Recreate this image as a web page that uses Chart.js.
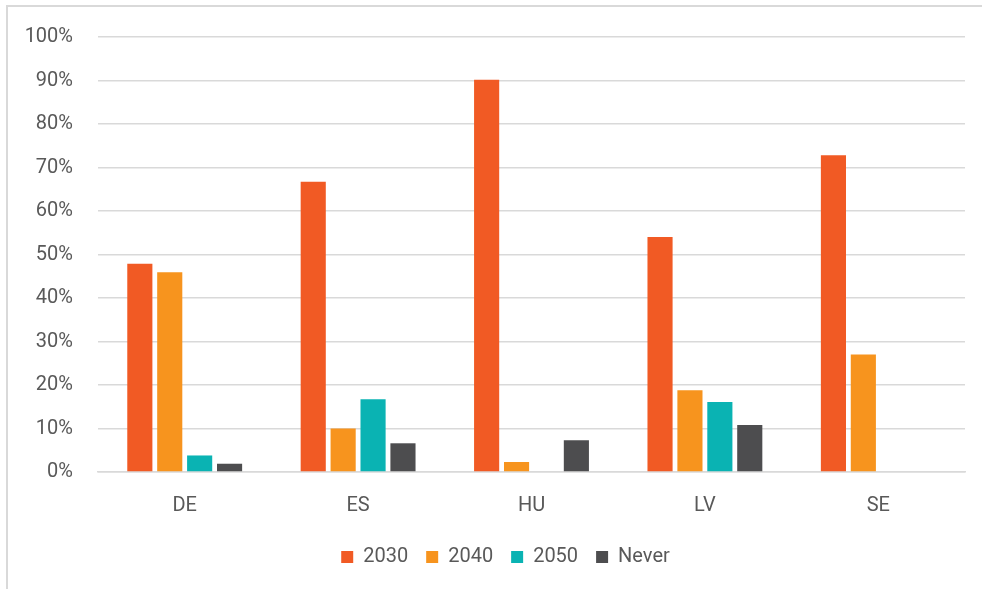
<!DOCTYPE html>
<html>
<head>
<meta charset="utf-8">
<script src="https://cdn.jsdelivr.net/npm/chart.js@4/dist/chart.umd.min.js"></script>
<style>
  html, body { margin: 0; padding: 0; background: #ffffff; }
  #wrap { position: relative; width: 982px; height: 589px; }
  #frame { position: absolute; left: 6px; top: 5px; width: 990px; height: 600px;
           border-left: 2px solid #d9d9d9; border-top: 2px solid #d9d9d9; box-sizing: border-box; }
  canvas { position: absolute; left: 0; top: 0; }
</style>
</head>
<body>
<div id="wrap">
  <div id="frame"></div>
  <canvas id="chart" width="982" height="589"></canvas>
</div>
<script>
const categories = ['DE', 'ES', 'HU', 'LV', 'SE'];
const seriesNames = ['2030', '2040', '2050', 'Never'];
const values2030 = [47.9, 66.7, 90.2, 54.0, 72.8];
const values2040 = [45.9, 10.0, 2.3, 18.8, 27.0];
const values2050 = [3.8, 16.7, 0, 16.1, 0];
const valuesNever = [1.9, 6.6, 7.3, 10.8, 0];
const colors = ['#F15A24', '#F7941E', '#0AB3B3', '#4D4D4F'];
const yTicks = [0, 10, 20, 30, 40, 50, 60, 70, 80, 90, 100];

const seriesValues = [values2030, values2040, values2050, valuesNever];
const fontFamily = "Roboto, 'Noto Sans', sans-serif";
const textColor = '#595959';

// Nudge the legend row a little to the right of the canvas centre
const legendShift = {
  id: 'legendShift',
  afterLayout(chart) {
    if (chart.legend) {
      chart.legend.left += 23;
      chart.legend.right += 23;
    }
  }
};

new Chart(document.getElementById('chart'), {
  type: 'bar',
  data: {
    labels: categories,
    datasets: seriesNames.map((name, i) => ({
      label: name,
      data: seriesValues[i],
      backgroundColor: colors[i],
      borderWidth: 0,
      categoryPercentage: 0.69,
      barPercentage: 0.84
    }))
  },
  options: {
    responsive: false,
    animation: false,
    layout: { padding: { left: 0, right: 17, top: 26, bottom: 12 } },
    scales: {
      x: {
        grid: { display: false, drawTicks: false },
        border: { display: true, color: '#d9d9d9', width: 1.5 },
        ticks: { color: textColor, font: { family: fontFamily, size: 20 }, padding: 22 },
        afterFit: (scale) => { scale.height = 57; }
      },
      y: {
        min: 0,
        max: 100,
        afterBuildTicks: (scale) => { scale.ticks = yTicks.map(v => ({ value: v })); },
        grid: { color: '#d9d9d9', lineWidth: 1.5, drawTicks: false },
        border: { display: false },
        ticks: {
          color: textColor,
          font: { family: fontFamily, size: 20 },
          padding: 25,
          callback: (v) => v + '%'
        },
        afterFit: (scale) => { scale.width = 98; }
      }
    },
    plugins: {
      tooltip: { enabled: false },
      legend: {
        position: 'bottom',
        labels: {
          color: textColor,
          font: { family: fontFamily, size: 20 },
          boxWidth: 12,
          boxHeight: 12,
          padding: 18
        }
      }
    }
  },
  plugins: [legendShift]
});
</script>
</body>
</html>
